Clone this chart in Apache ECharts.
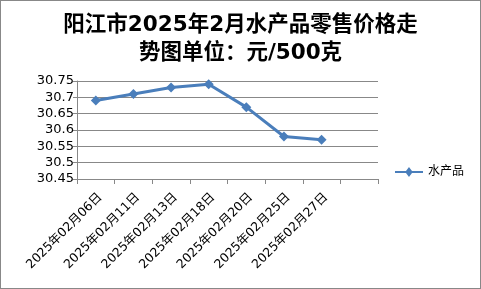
<!DOCTYPE html>
<html><head><meta charset="utf-8">
<script src="https://cdn.jsdelivr.net/npm/echarts@6/dist/echarts.min.js"></script>
<style>html,body{margin:0;padding:0;background:#fff}#c{width:481px;height:289px;box-sizing:border-box;border:1px solid #888}</style>
</head><body><div id="c"></div>
<script>
const categories = ["2025年02月06日","2025年02月11日","2025年02月13日","2025年02月18日","2025年02月20日","2025年02月25日","2025年02月27日",""];
const values = [30.69, 30.71, 30.73, 30.74, 30.67, 30.58, 30.57];
const seriesName = "水产品";
const titleText = "阳江市2025年2月水产品零售价格走\n势图单位：元/500克";
const chart = echarts.init(document.getElementById('c'));
chart.setOption({
  animation:false,
  title:{text:titleText,left:'center',top:5,textStyle:{fontFamily:'DejaVu Sans, Noto Sans CJK SC',fontSize:21.5,fontWeight:'bold',color:'#000',lineHeight:28}},
  legend:{data:[{name:seriesName,icon:'path://M0,4L11,4L14,0L17,4L28,4L28,6L17,6L14,10L11,6L0,6Z'}],right:11,top:160,itemWidth:28,itemHeight:10,itemGap:4,textStyle:{fontFamily:'DejaVu Sans, Noto Sans CJK SC',fontSize:12,color:'#000'}},
  grid:{left:76,right:102,top:80,bottom:109,containLabel:false},
  xAxis:{type:'category',data:categories,boundaryGap:true,
    axisLine:{lineStyle:{color:'#888'}},axisTick:{show:true,length:5,lineStyle:{color:'#888'}},
    axisLabel:{rotate:45,fontFamily:'DejaVu Sans, Noto Sans CJK SC',fontSize:12.5,color:'#000',interval:0,margin:12,verticalAlign:'top'}},
  yAxis:{type:'value',min:30.45,max:30.75,interval:0.05,
    axisLine:{show:true,lineStyle:{color:'#888'}},axisTick:{show:true,length:4,inside:false,lineStyle:{color:'#888'}},
    splitLine:{lineStyle:{color:'#888'}},
    axisLabel:{fontFamily:'DejaVu Sans',fontSize:13,color:'#000',margin:3,formatter:v=>String(+v.toFixed(2))}},
  series:[{name:seriesName,type:'line',data:values,symbol:'diamond',symbolSize:10,
    lineStyle:{color:'#4A7EBB',width:3},itemStyle:{color:'#4A7EBB'}}]
});
</script></body></html>
